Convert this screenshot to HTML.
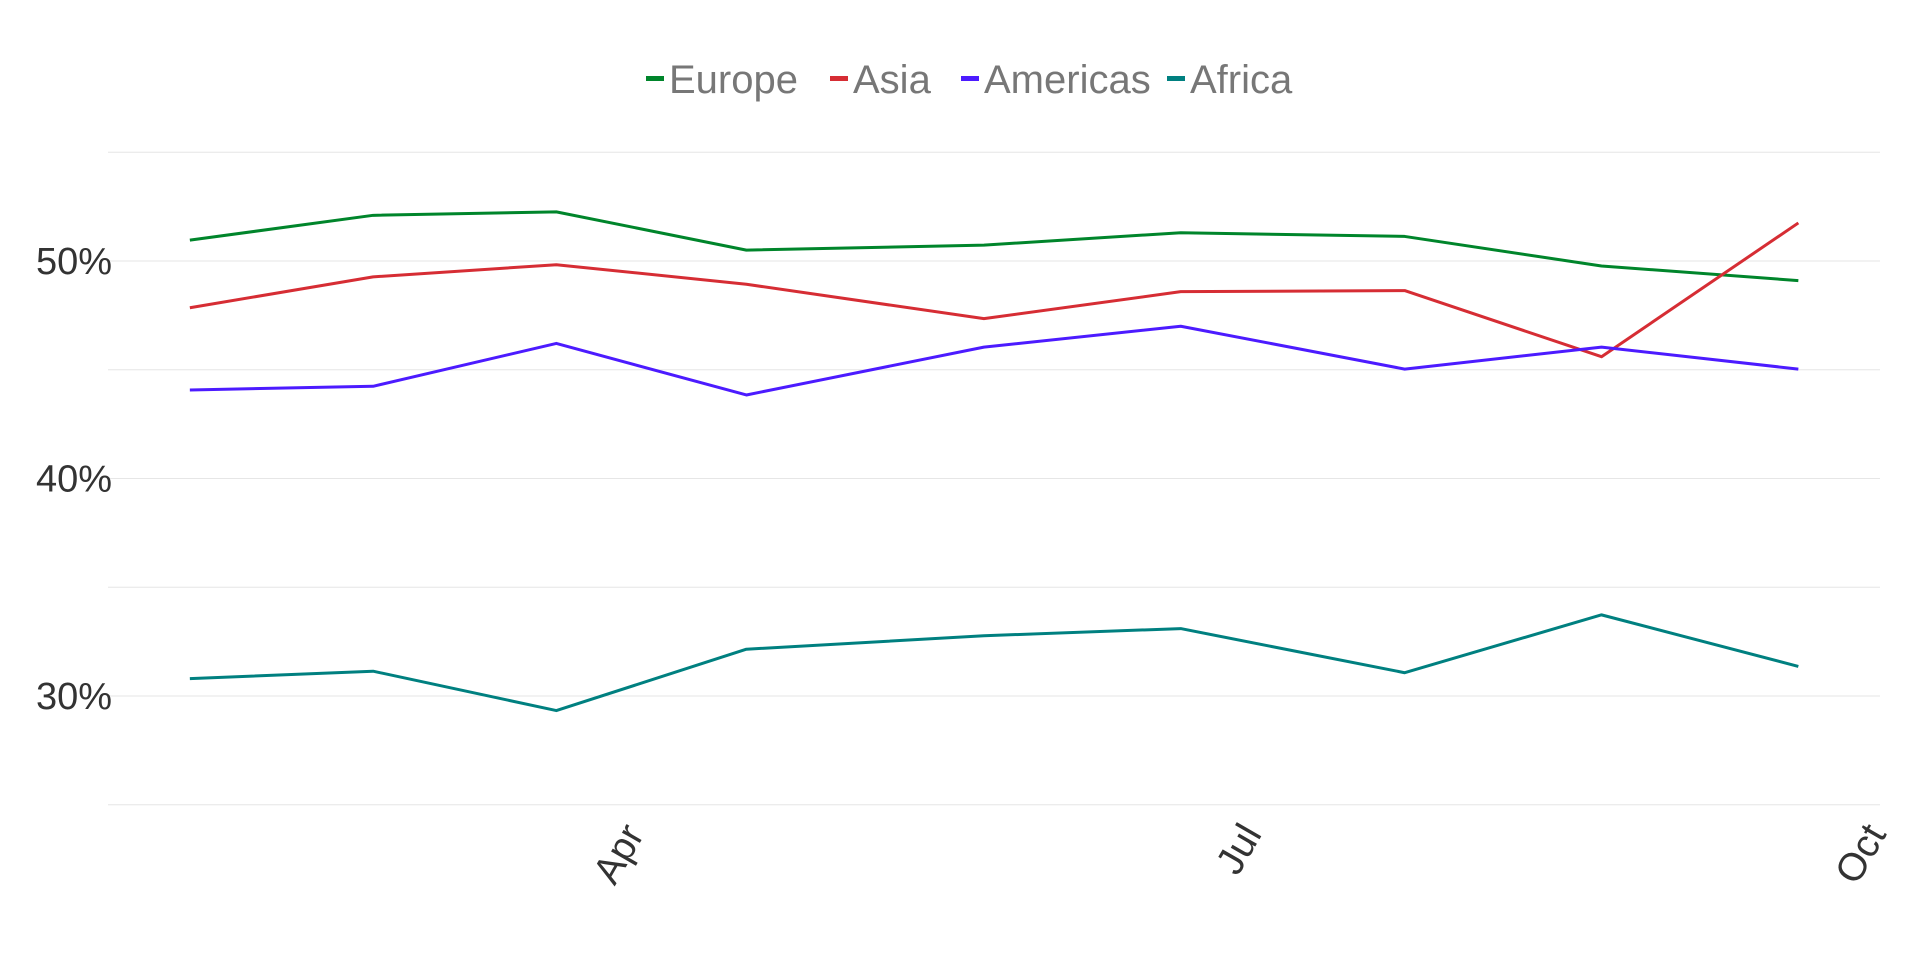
<!DOCTYPE html>
<html><head><meta charset="utf-8"><style>
body{margin:0;background:#fff;width:1920px;height:960px;overflow:hidden;font-family:"Liberation Sans",sans-serif}
svg{position:absolute;left:0;top:0}
</style></head><body>
<svg id="chart" width="1920" height="960" xmlns="http://www.w3.org/2000/svg"></svg>
<script>
const dates=["2023-01-26","2023-02-22","2023-03-21","2023-04-18","2023-05-23","2023-06-21","2023-07-24","2023-08-22","2023-09-20"];
const europe=[50.96,52.1,52.26,50.5,50.73,51.3,51.13,49.77,49.1];
const asia=[47.85,49.27,49.83,48.93,47.35,48.59,48.64,45.6,51.75];
const americas=[44.07,44.24,46.21,43.84,46.04,47.0,45.03,46.04,45.03];
const africa=[30.8,31.14,29.33,32.15,32.77,33.1,31.07,33.73,31.36];
const yTicks=[25,30,35,40,45,50,55];
const yLabels=["30%","40%","50%"];
const xTickDates=["2023-04-01","2023-07-01","2023-10-01"];
const xTickLabels=["Apr","Jul","Oct"];
const seriesNames=["Europe","Asia","Americas","Africa"];
const colors=["#00852b","#d62d34","#4c1bff","#008080"];

const NS="http://www.w3.org/2000/svg";
const svg=document.getElementById('chart');
const d0=Date.parse("2023-04-01"),d1=Date.parse("2023-10-01");
function x(d){return 631+(Date.parse(d)-d0)/(d1-d0)*(1873-631);}
function y(v){return 261+(50-v)*21.75;}
function el(t,a){const e=document.createElementNS(NS,t);for(const k in a)e.setAttribute(k,a[k]);svg.appendChild(e);return e;}
yTicks.forEach(v=>{
  const l=el('line',{x1:108,x2:1880,y1:y(v),y2:y(v),stroke:'#e6e6e6','stroke-width':1});
  
  
});
yLabels.forEach(s=>{
  const v=parseFloat(s);
  const t=el('text',{x:36,y:y(v)+13,'font-size':38,fill:'#333','font-family':'Liberation Sans, sans-serif'});
  t.textContent=s;
  
  
});
xTickDates.forEach((d,i)=>{
  const xx=x(d);
  const t=el('text',{x:0,y:0,'font-size':39,fill:'#333','text-anchor':'end',transform:`translate(${xx+14},${834}) rotate(-60)`});
  t.textContent=xTickLabels[i];
  
  
});
[europe,asia,americas,africa].forEach((s,i)=>{
  const p=el('polyline',{points:s.map((v,j)=>x(dates[j])+','+y(v)).join(' '),fill:'none',stroke:colors[i],'stroke-width':3,'stroke-linejoin':'round'});
  
  
});
const legX=[646,830,961,1167];
seriesNames.forEach((n,i)=>{
  const g=el('g',{});
  
  
  const r=document.createElementNS(NS,'rect');
  r.setAttribute('x',legX[i]);r.setAttribute('y',76);r.setAttribute('width',18);r.setAttribute('height',5);r.setAttribute('fill',colors[i]);
  g.appendChild(r);
  const t=document.createElementNS(NS,'text');
  t.setAttribute('x',legX[i]+23);t.setAttribute('y',93);t.setAttribute('font-size',40);t.setAttribute('fill','#777');
  t.textContent=n;g.appendChild(t);
});
</script>
</body></html>
